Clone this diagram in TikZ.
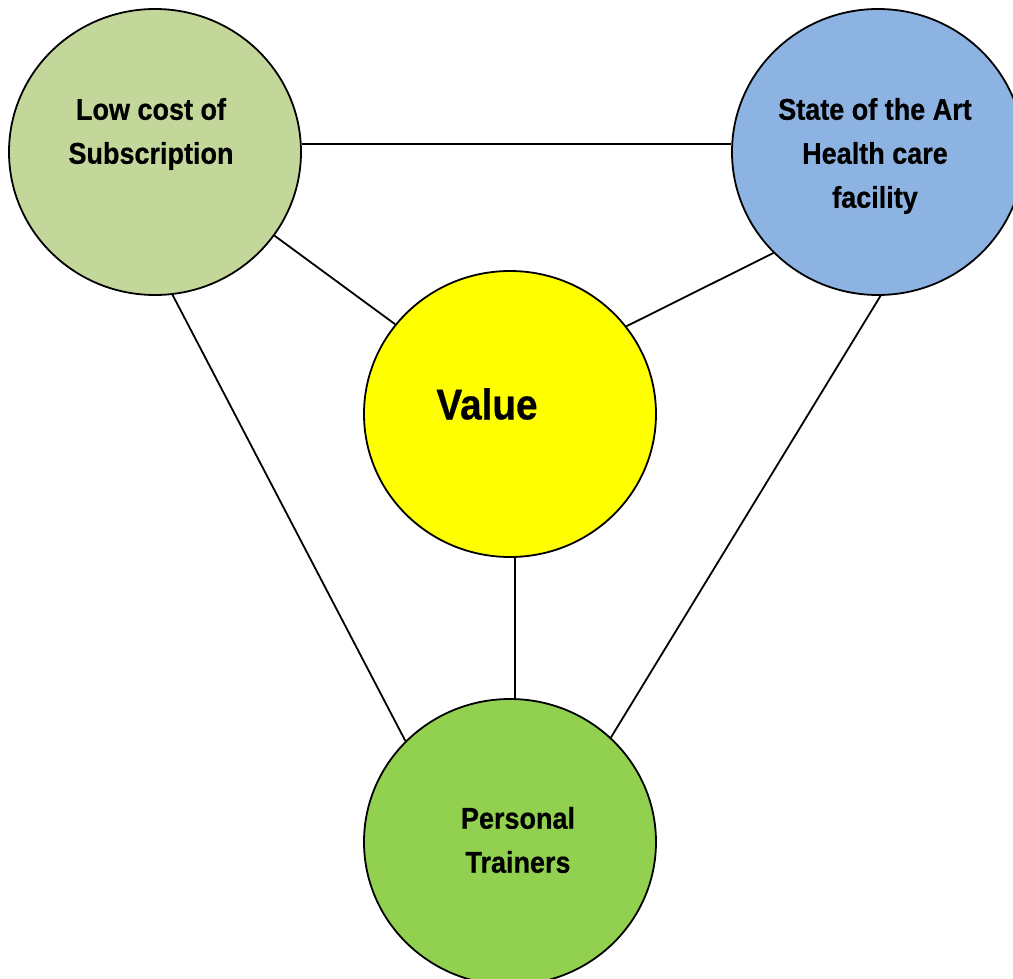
\documentclass[tikz,border=0pt]{standalone}
\usepackage{fontspec}
\setmainfont{Liberation Sans}
\newfontfamily\diafont{Liberation Sans}[FakeStretch=0.9,FakeBold=0.6]
\usetikzlibrary{shapes.geometric}
\definecolor{olivegr}{HTML}{C4D79B}
\definecolor{skyblu}{HTML}{8DB3E2}
\definecolor{limegr}{HTML}{92D050}
\definecolor{valyel}{HTML}{FFFF00}
\tikzset{
  bubble/.style={ellipse, draw=black, line width=1.8pt, minimum width=292pt, minimum height=286pt, inner sep=0pt},
  smalltxt/.style={align=center, inner sep=0pt, font=\diafont\bfseries\fontsize{30}{44}\selectfont},
  bigtxt/.style={inner sep=0pt, font=\diafont\bfseries\fontsize{43}{50}\selectfont},
  link/.style={draw=black, line width=1.8pt}
}
\begin{document}
\begin{tikzpicture}[x=1pt,y=-1pt]
\useasboundingbox (0,0) rectangle (1013,979);
\fill[white] (0,0) rectangle (1013,979);
\node[bubble, fill=olivegr] (low) at (155,152) {};
\node[bubble, fill=skyblu] (state) at (878,152) {};
\node[bubble, fill=valyel] (value) at (510,414) {};
\node[bubble, fill=limegr] (pers) at (510,842) {};
\node[smalltxt] (lowt) at (151,134) {Low cost of\\Subscription};
\node[smalltxt] (statet) at (875,156) {State of the Art\\Health care\\facility};
\node[bigtxt] (valuet) at (487,404) {Value};
\node[smalltxt] (perst) at (518,840) {Personal\\Trainers};
\draw[link] (low.3.6) -- (low.3.6 -| state.west);
\draw[link] (low.-35.8) -- (value.142.7);
\draw[link] (state.-136.7) -- (value.37);
\draw[link] (low.-83.2) -- (pers.136.4);
\draw[link] (state.-89.2) -- (pers.46.4);
\draw[link] (value.-88.4) -- (pers.88.4);
\end{tikzpicture}
\end{document}
